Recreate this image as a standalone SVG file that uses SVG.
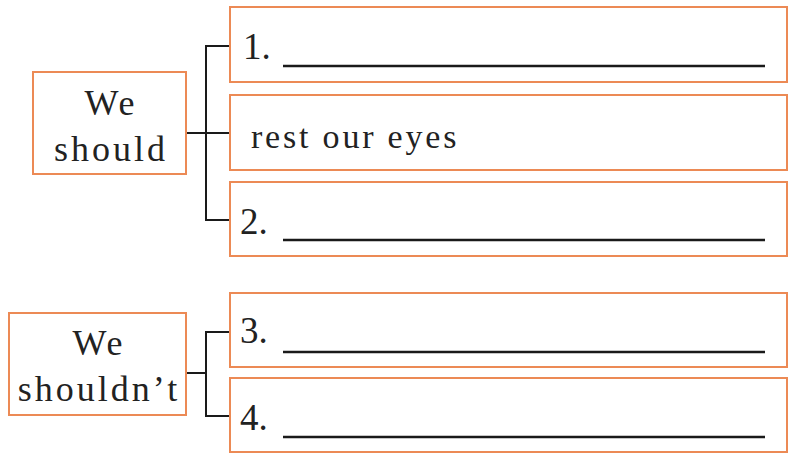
<svg xmlns="http://www.w3.org/2000/svg" width="798" height="458" viewBox="0 0 798 458">
<style>
.box{fill:#fff;stroke:#EC8A55;stroke-width:2}
.conn{fill:none;stroke:#1a1a1a;stroke-width:2}
.ul{stroke:#1a1a1a;stroke-width:2.5}
text{font-family:"Liberation Serif","Times New Roman",serif;fill:#222}
.lbl{font-size:36px;letter-spacing:3px;text-anchor:middle}
.num{font-size:37px}
.ans{font-size:34px;letter-spacing:2.8px}
</style>
<rect width="798" height="458" fill="#fff"/>
<g id="connectors">
<path class="conn" d="M186,133 H230 M230,46 H206 V220 H230"/>
<path class="conn" d="M186,373 H206 M230,332 H206 V416 H230"/>
</g>
<g id="we-should">
<rect class="box" x="33" y="72" width="153" height="102"/>
<text class="lbl" x="111" y="115">We</text>
<text class="lbl" x="111" y="161">should</text>
</g>
<g id="item1">
<rect class="box" x="230" y="7" width="557" height="75"/>
<text class="num" x="243" y="59">1.</text>
<line class="ul" x1="283" y1="66" x2="765" y2="66"/>
</g>
<g id="rest-eyes">
<rect class="box" x="230" y="95" width="557" height="75"/>
<text class="ans" x="251" y="148">rest our eyes</text>
</g>
<g id="item2">
<rect class="box" x="230" y="182" width="557" height="74"/>
<text class="num" x="240" y="234">2.</text>
<line class="ul" x1="283" y1="240" x2="765" y2="240"/>
</g>
<g id="we-shouldnt">
<rect class="box" x="9" y="313" width="177" height="102"/>
<text class="lbl" x="99" y="355">We</text>
<text class="lbl" x="99" y="401">shouldn’t</text>
</g>
<g id="item3">
<rect class="box" x="230" y="293" width="557" height="74"/>
<text class="num" x="240" y="343">3.</text>
<line class="ul" x1="283" y1="352" x2="765" y2="352"/>
</g>
<g id="item4">
<rect class="box" x="230" y="378" width="557" height="74"/>
<text class="num" x="240" y="430">4.</text>
<line class="ul" x1="283" y1="437" x2="765" y2="437"/>
</g>
</svg>
